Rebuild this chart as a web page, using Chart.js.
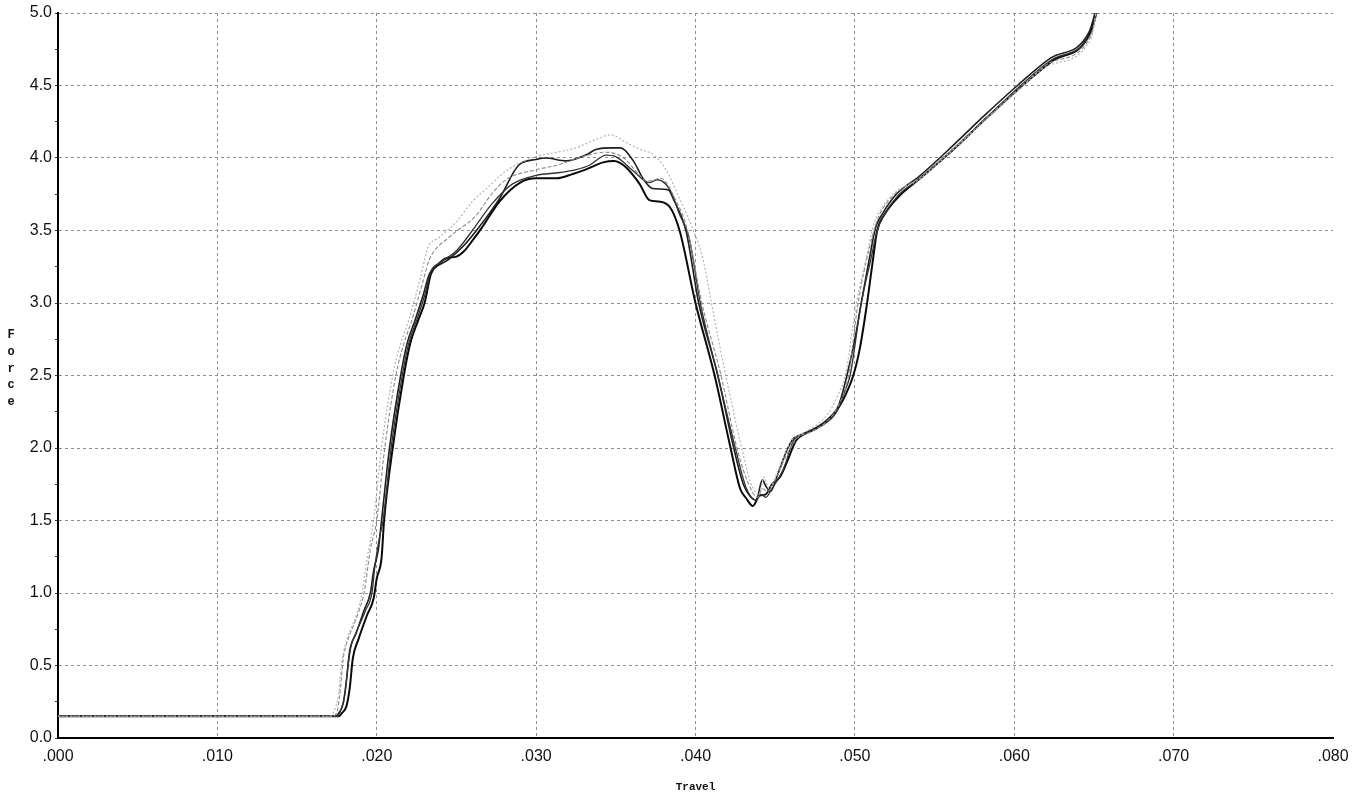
<!DOCTYPE html>
<html>
<head>
<meta charset="utf-8">
<script src="https://cdn.jsdelivr.net/npm/chart.js@4.4.1/dist/chart.umd.min.js"></script>
<style>
  html, body { margin: 0; padding: 0; background: #ffffff; }
  #wrap { width: 1363px; height: 804px; position: relative; }
</style>
</head>
<body>
<div id="wrap"><canvas id="c"></canvas></div>
<script>
// ---- Data ----
const xTickValues = [0, 0.01, 0.02, 0.03, 0.04, 0.05, 0.06, 0.07, 0.08];
const yTickLabels = ["0.0","0.5","1.0","1.5","2.0","2.5","3.0","3.5","4.0","4.5","5.0"];
const xTitle = "Travel";
const yTitle = "Force";

// Run A (heavy dark)
const travelA = [0, 0.0176, 0.0178, 0.0181, 0.0183, 0.0185, 0.01885, 0.0194, 0.0198, 0.0200, 0.0203, 0.02046, 0.0210, 0.0217, 0.0221, 0.0226, 0.0230, 0.0234, 0.0238, 0.0244, 0.0250, 0.0255, 0.0260, 0.0266, 0.0277, 0.0290, 0.0300, 0.0313, 0.0323, 0.0331, 0.0342, 0.0349, 0.0356, 0.0365, 0.0371, 0.0377, 0.0384, 0.0390, 0.0400, 0.0412, 0.0422, 0.0428, 0.0432, 0.0436, 0.0440, 0.0444, 0.0448, 0.0453, 0.0458, 0.0463, 0.0469, 0.0478, 0.0486, 0.0492, 0.0499, 0.0503, 0.0507, 0.0511, 0.0514, 0.0518, 0.0528, 0.0541, 0.0562, 0.0582, 0.0603, 0.0624, 0.0647, 0.0656];
const forceA  = [0.15, 0.15, 0.17, 0.22, 0.34, 0.55, 0.68, 0.85, 0.96, 1.10, 1.24, 1.5, 2.0, 2.5, 2.72, 2.88, 3.0, 3.2, 3.26, 3.31, 3.32, 3.36, 3.43, 3.52, 3.70, 3.83, 3.86, 3.86, 3.89, 3.92, 3.97, 3.98, 3.94, 3.82, 3.71, 3.70, 3.66, 3.50, 3.0, 2.5, 2.0, 1.72, 1.65, 1.60, 1.67, 1.68, 1.75, 1.80, 1.92, 2.05, 2.10, 2.15, 2.22, 2.32, 2.50, 2.68, 2.95, 3.27, 3.50, 3.60, 3.74, 3.86, 4.06, 4.27, 4.48, 4.67, 4.85, 5.2];

// Run B (dark, upper peak)
const travelB = [0, 0.0174, 0.0176, 0.0179, 0.0181, 0.0183, 0.0187, 0.0192, 0.0196, 0.0198, 0.0201, 0.0203, 0.0208, 0.0215, 0.0219, 0.0224, 0.0229, 0.0233, 0.0236, 0.0245, 0.0255, 0.0264, 0.0277, 0.0289, 0.0300, 0.0306, 0.0319, 0.0331, 0.0338, 0.0348, 0.0353, 0.0361, 0.0367, 0.0373, 0.0383, 0.0386, 0.0394, 0.0402, 0.0414, 0.0424, 0.0430, 0.0434, 0.0438, 0.0442, 0.0444, 0.0447, 0.0451, 0.0456, 0.0461, 0.0466, 0.0474, 0.0483, 0.0490, 0.0495, 0.0500, 0.0504, 0.0509, 0.0513, 0.0517, 0.0526, 0.0540, 0.0561, 0.0581, 0.0602, 0.0623, 0.0647, 0.0655];
const forceB  = [0.15, 0.15, 0.17, 0.24, 0.40, 0.60, 0.72, 0.88, 1.00, 1.15, 1.30, 1.5, 2.0, 2.5, 2.72, 2.88, 3.05, 3.2, 3.24, 3.30, 3.40, 3.52, 3.72, 3.95, 3.99, 4.00, 3.98, 4.02, 4.06, 4.07, 4.07, 3.98, 3.86, 3.79, 3.78, 3.72, 3.50, 3.0, 2.5, 2.0, 1.75, 1.67, 1.64, 1.78, 1.74, 1.70, 1.80, 1.95, 2.06, 2.09, 2.13, 2.20, 2.30, 2.50, 2.75, 3.0, 3.30, 3.52, 3.61, 3.75, 3.87, 4.08, 4.29, 4.50, 4.69, 4.87, 5.2];

// Run C (dark, middle)
const travelC = [0, 0.0175, 0.0177, 0.0180, 0.0182, 0.0184, 0.0186, 0.0193, 0.0197, 0.0199, 0.0202, 0.0204, 0.0209, 0.0216, 0.0220, 0.0225, 0.0230, 0.0234, 0.0240, 0.0250, 0.0260, 0.0272, 0.0285, 0.0300, 0.0315, 0.0325, 0.03335, 0.0344, 0.0350, 0.0361, 0.0371, 0.0376, 0.0384, 0.0390, 0.0396, 0.0403, 0.0414, 0.0425, 0.0432, 0.0438, 0.0441, 0.0444, 0.0448, 0.0455, 0.0462, 0.0470, 0.0480, 0.0488, 0.0494, 0.0497, 0.0504, 0.0510, 0.0514, 0.0518, 0.0527, 0.0541, 0.0562, 0.0582, 0.0603, 0.0624, 0.0648, 0.0656];
const forceC  = [0.15, 0.15, 0.18, 0.30, 0.50, 0.64, 0.70, 0.88, 1.00, 1.2, 1.4, 1.5, 2.0, 2.5, 2.72, 2.88, 3.05, 3.22, 3.28, 3.36, 3.50, 3.68, 3.82, 3.88, 3.90, 3.92, 3.95, 4.02, 4.01, 3.91, 3.83, 3.85, 3.78, 3.61, 3.45, 3.0, 2.5, 2.0, 1.72, 1.64, 1.68, 1.66, 1.72, 1.85, 2.06, 2.10, 2.16, 2.24, 2.40, 2.50, 3.0, 3.30, 3.50, 3.60, 3.74, 3.86, 4.06, 4.27, 4.49, 4.68, 4.86, 5.2];

// Run D (light grey, highest peak)
const travelD = [0, 0.0170, 0.0173, 0.0176, 0.0178, 0.0181, 0.0187, 0.0190, 0.0194, 0.0198, 0.0203, 0.0210, 0.0215, 0.0220, 0.0228, 0.0232, 0.0239, 0.0250, 0.0260, 0.0270, 0.0281, 0.0300, 0.0313, 0.0325, 0.0338, 0.0347, 0.0356, 0.0365, 0.0374, 0.0382, 0.0390, 0.0398, 0.0405, 0.0410, 0.0419, 0.0429, 0.0435, 0.0440, 0.0443, 0.0446, 0.0452, 0.0460, 0.0467, 0.0476, 0.0484, 0.0490, 0.0494, 0.0501, 0.0507, 0.0512, 0.0516, 0.0525, 0.0540, 0.0560, 0.0580, 0.0601, 0.0622, 0.0648, 0.0654];
const forceD  = [0.15, 0.15, 0.18, 0.30, 0.52, 0.67, 0.84, 0.96, 1.24, 1.5, 2.0, 2.5, 2.72, 2.88, 3.2, 3.38, 3.45, 3.56, 3.70, 3.80, 3.91, 4.01, 4.04, 4.07, 4.13, 4.16, 4.11, 4.06, 4.02, 3.91, 3.72, 3.52, 3.29, 3.0, 2.5, 2.0, 1.75, 1.68, 1.80, 1.72, 1.85, 2.05, 2.10, 2.16, 2.25, 2.38, 2.5, 3.0, 3.3, 3.55, 3.64, 3.76, 3.85, 4.04, 4.24, 4.45, 4.64, 4.82, 5.2];

// Run E (medium grey)
const travelE = [0, 0.0172, 0.0175, 0.0177, 0.0179, 0.0182, 0.0188, 0.0192, 0.0196, 0.0200, 0.0205, 0.0212, 0.0217, 0.0222, 0.0229, 0.0233, 0.0245, 0.0262, 0.0272, 0.0281, 0.0300, 0.0313, 0.0329, 0.0344, 0.0355, 0.0365, 0.0370, 0.0378, 0.0388, 0.0395, 0.0404, 0.0416, 0.0426, 0.0433, 0.0439, 0.0442, 0.0445, 0.0450, 0.0457, 0.0464, 0.0472, 0.0481, 0.0488, 0.0496, 0.0502, 0.0512, 0.0516, 0.0525, 0.0540, 0.0560, 0.0581, 0.0602, 0.0623, 0.0648, 0.0654];
const forceE  = [0.15, 0.15, 0.18, 0.32, 0.55, 0.68, 0.85, 1.0, 1.3, 1.5, 2.0, 2.5, 2.72, 2.88, 3.15, 3.30, 3.45, 3.60, 3.75, 3.85, 3.92, 3.95, 4.01, 4.04, 4.00, 3.88, 3.84, 3.86, 3.70, 3.50, 3.0, 2.5, 2.0, 1.76, 1.66, 1.72, 1.70, 1.78, 1.95, 2.07, 2.11, 2.17, 2.26, 2.5, 3.0, 3.5, 3.62, 3.75, 3.86, 4.05, 4.26, 4.47, 4.66, 4.84, 5.2];

// ---- helpers ----
function zip(xs, ys) { return xs.map((x, i) => ({ x: x, y: ys[i] })); }
function ds(label, xs, ys, color, width, dash) {
  return {
    label: label, data: zip(xs, ys), borderColor: color, borderWidth: width,
    borderDash: dash || [], pointRadius: 0, showLine: true, fill: false,
    cubicInterpolationMode: 'monotone'
  };
}
const isMajorY = v => Math.abs(v * 2 - Math.round(v * 2)) < 1e-6;

const axisTitles = {
  id: 'axisTitles',
  afterDraw(chart) {
    const ctx = chart.ctx;
    ctx.save();
    ctx.fillStyle = '#111';
    ctx.textAlign = 'center';
    ctx.textBaseline = 'middle';
    ctx.font = 'bold 11px "Liberation Mono", "DejaVu Sans Mono", monospace';
    const area = chart.chartArea;
    ctx.fillText(xTitle, (area.left + area.right) / 2, 787);
    ctx.font = 'bold 12px "Liberation Mono", "DejaVu Sans Mono", monospace';
    const chars = yTitle.split('');
    chars.forEach((ch, i) => ctx.fillText(ch, 11, 335 + i * 16.8));
    ctx.restore();
  }
};

new Chart(document.getElementById('c'), {
  type: 'scatter',
  data: {
    datasets: [
      ds('Run D', travelD, forceD, '#b4b4b4', 1.2, [2, 2]),
      ds('Run E', travelE, forceE, '#8a8a8a', 1.1, [4, 2]),
      ds('Run C', travelC, forceC, '#333333', 1.3),
      ds('Run B', travelB, forceB, '#1e1e1e', 1.6),
      ds('Run A', travelA, forceA, '#0a0a0a', 2.0)
    ]
  },
  options: {
    responsive: true,
    maintainAspectRatio: false,
    animation: false,
    layout: { padding: { left: 0, top: 13, right: 30, bottom: 0 } },
    plugins: { legend: { display: false }, tooltip: { enabled: false } },
    scales: {
      x: {
        type: 'linear', min: 0, max: 0.08,
        afterFit: s => { s.height = 66; },
        afterBuildTicks: s => { s.ticks = xTickValues.map(v => ({ value: v })); },
        ticks: {
          autoSkip: false, maxRotation: 0, padding: 9,
          color: '#111',
          font: { family: '"Liberation Sans", Arial, sans-serif', size: 16 },
          callback: v => v.toFixed(3).replace(/^0/, '')
        },
        grid: {
          drawTicks: false, lineWidth: 1,
          color: c => (c.tick && c.tick.value > 0.0799) ? 'rgba(0,0,0,0)' : '#8e8e8e'
        },
        border: { display: true, color: '#000', width: 2, dash: [3, 3] }
      },
      y: {
        type: 'linear', min: 0, max: 5,
        afterFit: s => { s.width = 58; },
        ticks: {
          stepSize: 0.25, autoSkip: false, padding: 3,
          color: '#111',
          font: { family: '"Liberation Sans", Arial, sans-serif', size: 16 },
          callback: v => isMajorY(v) ? yTickLabels[Math.round(v * 2)] : ''
        },
        grid: {
          drawTicks: true, tickLength: 3, lineWidth: 1,
          color: c => (c.tick && isMajorY(c.tick.value)) ? '#8e8e8e' : 'rgba(0,0,0,0)',
          tickColor: '#333'
        },
        border: { display: true, color: '#000', width: 2, dash: [3, 3] }
      }
    }
  },
  plugins: [axisTitles]
});
</script>
</body>
</html>
